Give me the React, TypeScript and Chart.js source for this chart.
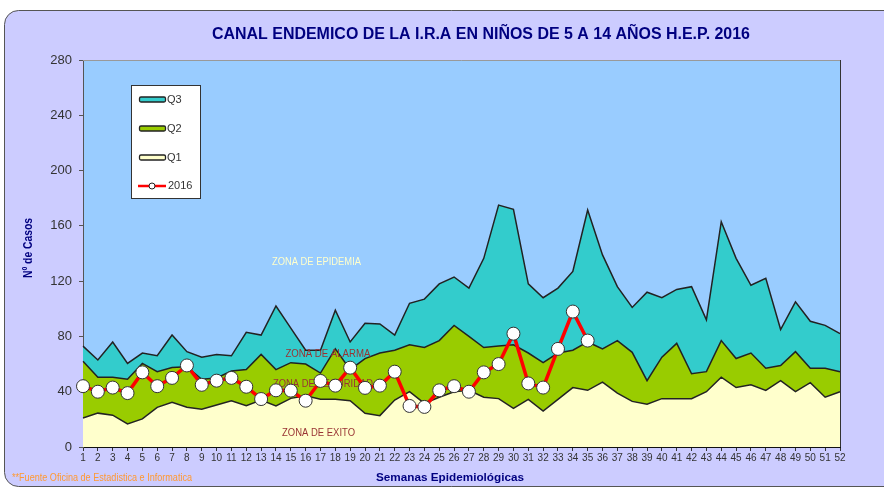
import React, { useEffect, useRef } from "react";
import { Chart, registerables } from "chart.js";

Chart.register(...registerables);

const WEEKS = ["1","2","3","4","5","6","7","8","9","10","11","12","13","14","15","16","17","18","19","20","21","22","23","24","25","26","27","28","29","30","31","32","33","34","35","36","37","38","39","40","41","42","43","44","45","46","47","48","49","50","51","52"];

const Q3 = [73,63,76,60.5,68,66,81,69,65,67,66,83,81,102,86,70,70,99,76,89.5,89,81,104,107,118,123,115,136.5,175,172,118,108,115,127,171.5,139,116,101,112,108,114,116,92,163,136.5,117,122,85,105,91,88,82];
const Q2 = [62,50.5,50.5,49,60.5,54.5,57.5,58,49,50,55,56,67,56,61,60,53.5,71,56,64,68,70,74,72,77,88,80,72,73,74,68,61,68,70,76,71,77,68.5,48,65,75,53,54.5,77,64,68,57,59,69,57,57,54.5];
const Q1 = [21,24.5,23,16.7,20.3,28.7,32.3,28.7,27.3,30.4,33.5,29.8,34,29.7,35.2,37,34.5,34.5,33.5,24.4,22.7,34,40,31.5,36,40,41,36,35,28,34.5,26,34.5,43,41,47,39,33,31,35,35,35,40,50.5,43,45,41,48,40,46.5,36,40];
const CASES_2016 = [44,40,43,39,54,44,50,59,45,48,50,43.6,34.7,41,40.8,33.5,47.8,44.4,57.4,42.8,44.4,54.5,29.7,29,41,44,40,54,60,82,46,43,71,98,77,null,null,null,null,null,null,null,null,null,null,null,null,null,null,null,null,null];
const Y_TICKS = [0, 40, 80, 120, 160, 200, 240, 280];

const TITLE = "CANAL ENDEMICO DE LA I.R.A EN NIÑOS DE 5 A 14 AÑOS H.E.P. 2016";
const Y_TITLE = "Nº de Casos";
const X_TITLE = "Semanas Epidemiológicas";
const SOURCE = "**Fuente Oficina de Estadistica e Informatica";
const ZONES = ["ZONA DE EPIDEMIA", "ZONA DE ALARMA", "ZONA DE SEGURIDAD", "ZONA DE EXITO"];
const LEGEND_LABELS = ["Q3", "Q2", "Q1", "2016"];

const FONT = '"Liberation Sans", Arial, sans-serif';
const NAVY = "#000080";
const C_Q3 = "#33cccc";
const C_Q2 = "#99cc00";
const C_Q1 = "#ffffcc";
const C_BG = "#99ccff";
const C_RED = "#ff0000";
const C_ZONE = "#993333";

function fitText(ctx: CanvasRenderingContext2D, text: string, cx: number, cy: number, width: number, font: string, color: string, rot = 0) {
  ctx.save();
  ctx.font = font;
  const w = ctx.measureText(text).width;
  const s = width / w;
  ctx.translate(cx, cy);
  if (rot) ctx.rotate(rot);
  ctx.scale(s, 1);
  ctx.textAlign = "center";
  ctx.textBaseline = "middle";
  ctx.fillStyle = color;
  ctx.fillText(text, 0, 0);
  ctx.restore();
}

const decoPlugin = {
  id: "deco",
  beforeDraw(chart: any) {
    const ctx: CanvasRenderingContext2D = chart.ctx;
    const { left, right, top, bottom } = chart.chartArea;
    ctx.save();
    ctx.fillStyle = "#ffffff";
    ctx.fillRect(0, 0, chart.width, chart.height);
    ctx.beginPath();
    (ctx as any).roundRect(4.5, 10.5, 920, 476, 14);
    ctx.fillStyle = "#ccccff";
    ctx.fill();
    ctx.strokeStyle = "#555555";
    ctx.lineWidth = 1;
    ctx.stroke();
    ctx.fillStyle = C_BG;
    ctx.fillRect(left, top, right - left, bottom - top);
    ctx.restore();
  },
  beforeDatasetDraw(chart: any, args: any) {
    if (args.index !== 0) return;
    const ctx: CanvasRenderingContext2D = chart.ctx;
    const x = chart.scales.x;
    const y = chart.scales.y;
    const f = `10px ${FONT}`;
    fitText(ctx, ZONES[0], x.getPixelForValue(15.73), y.getPixelForValue(134), 89, f, "#ffffcc");
    fitText(ctx, ZONES[1], x.getPixelForValue(16.5), y.getPixelForValue(67.3), 85, f, C_ZONE);
    fitText(ctx, ZONES[2], x.getPixelForValue(16.17), y.getPixelForValue(45.2), 100, f, C_ZONE);
    fitText(ctx, ZONES[3], x.getPixelForValue(15.87), y.getPixelForValue(9.9), 73, f, C_ZONE);
  },
  afterDatasetsDraw(chart: any) {
    const ctx: CanvasRenderingContext2D = chart.ctx;
    const { left, right, top, bottom } = chart.chartArea;
    ctx.save();
    ctx.lineWidth = 1;
    ctx.strokeStyle = "#999999";
    ctx.beginPath();
    ctx.moveTo(left, top + 0.5);
    ctx.lineTo(right, top + 0.5);
    ctx.stroke();
    ctx.strokeStyle = "#333333";
    ctx.beginPath();
    ctx.moveTo(right + 0.5, top);
    ctx.lineTo(right + 0.5, bottom);
    ctx.stroke();
    ctx.restore();
  },
  afterDraw(chart: any) {
    const ctx: CanvasRenderingContext2D = chart.ctx;
    fitText(ctx, TITLE, 481, 35, 538, `bold 16px ${FONT}`, NAVY);
    fitText(ctx, Y_TITLE, 29, 248, 60, `bold 12px ${FONT}`, NAVY, -Math.PI / 2);
    fitText(ctx, X_TITLE, 450, 478, 148, `bold 11px ${FONT}`, NAVY);
    ctx.save();
    ctx.font = `10px ${FONT}`;
    const w = ctx.measureText(SOURCE).width;
    ctx.translate(12, 478);
    ctx.scale(180 / w, 1);
    ctx.fillStyle = "#ff9933";
    ctx.textBaseline = "middle";
    ctx.fillText(SOURCE, 0, 0);
    ctx.restore();

    // legend
    ctx.save();
    ctx.fillStyle = "#ffffff";
    ctx.fillRect(131.5, 85.5, 69, 113);
    ctx.strokeStyle = "#333333";
    ctx.lineWidth = 1;
    ctx.strokeRect(131.5, 85.5, 69, 113);
    const colors = [C_Q3, C_Q2, C_Q1];
    const ys = [99.5, 128.5, 157.5, 186];
    ctx.font = `11px ${FONT}`;
    ctx.textBaseline = "middle";
    for (let i = 0; i < 3; i++) {
      ctx.beginPath();
      (ctx as any).roundRect(139.5, ys[i] - 2.5, 26, 5, 1.5);
      ctx.fillStyle = colors[i];
      ctx.fill();
      ctx.strokeStyle = "#222222";
      ctx.lineWidth = 1.3;
      ctx.stroke();
      ctx.fillStyle = "#333333";
      ctx.fillText(LEGEND_LABELS[i], 167, ys[i]);
    }
    ctx.strokeStyle = C_RED;
    ctx.lineWidth = 2.5;
    ctx.beginPath();
    ctx.moveTo(138, ys[3]);
    ctx.lineTo(166, ys[3]);
    ctx.stroke();
    ctx.beginPath();
    ctx.arc(152, ys[3], 3, 0, Math.PI * 2);
    ctx.fillStyle = "#ffffff";
    ctx.fill();
    ctx.strokeStyle = "#222222";
    ctx.lineWidth = 1;
    ctx.stroke();
    ctx.fillStyle = "#333333";
    ctx.fillText(LEGEND_LABELS[3], 168, ys[3]);
    ctx.restore();
  },
};

export default function App() {
  const ref = useRef<HTMLCanvasElement>(null);
  useEffect(() => {
    document.body.style.margin = "0";
    Chart.defaults.font.family = FONT;
    const chart = new Chart(ref.current as HTMLCanvasElement, {
      type: "line",
      data: {
        labels: WEEKS,
        datasets: [
          {
            label: "2016",
            data: CASES_2016,
            borderColor: C_RED,
            borderWidth: 3.5,
            pointRadius: 6.5,
            pointBackgroundColor: "#ffffff",
            pointBorderColor: "#333333",
            pointBorderWidth: 1,
            fill: false,
            tension: 0,
            spanGaps: false,
          },
          {
            label: "Q1",
            data: Q1,
            borderColor: "#222222",
            borderWidth: 1.5,
            backgroundColor: C_Q1,
            pointRadius: 0,
            fill: "origin",
            tension: 0,
          },
          {
            label: "Q2",
            data: Q2,
            borderColor: "#222222",
            borderWidth: 1.5,
            backgroundColor: C_Q2,
            pointRadius: 0,
            fill: "-1",
            tension: 0,
          },
          {
            label: "Q3",
            data: Q3,
            borderColor: "#222222",
            borderWidth: 1.5,
            backgroundColor: C_Q3,
            pointRadius: 0,
            fill: "-1",
            tension: 0,
          },
        ],
      },
      options: {
        responsive: false,
        animation: false,
        devicePixelRatio: 1,
        layout: { padding: { left: 23, right: 44, top: 60, bottom: 21 } },
        plugins: {
          legend: { display: false },
          title: { display: false },
          tooltip: { enabled: false },
        },
        scales: {
          x: {
            type: "category",
            offset: false,
            afterFit: (s: any) => { s.height = 20; },
            grid: { display: true, drawOnChartArea: false, drawTicks: true, tickLength: 4, color: "#333333" },
            border: { display: true, color: "#111111", width: 1 },
            ticks: { autoSkip: false, maxRotation: 0, minRotation: 0, padding: 1, color: "#333333", font: { size: 10 } },
          },
          y: {
            min: 0,
            max: 280,
            afterFit: (s: any) => { s.width = 60; },
            afterBuildTicks: (s: any) => { s.ticks = Y_TICKS.map((v) => ({ value: v })); },
            grid: { display: true, drawOnChartArea: false, drawTicks: true, tickLength: 4, color: "#555555" },
            border: { display: true, color: "#555555", width: 1 },
            ticks: { padding: 7, color: "#333333", font: { size: 13 } },
          },
        },
      },
      plugins: [decoPlugin],
    } as any);
    return () => chart.destroy();
  }, []);
  return (
    <div style={{ position: "fixed", left: 0, top: 0, width: 884, height: 488, background: "#fff" }}>
      <canvas ref={ref} width={884} height={488} style={{ display: "block", width: 884, height: 488 }} />
    </div>
  );
}
